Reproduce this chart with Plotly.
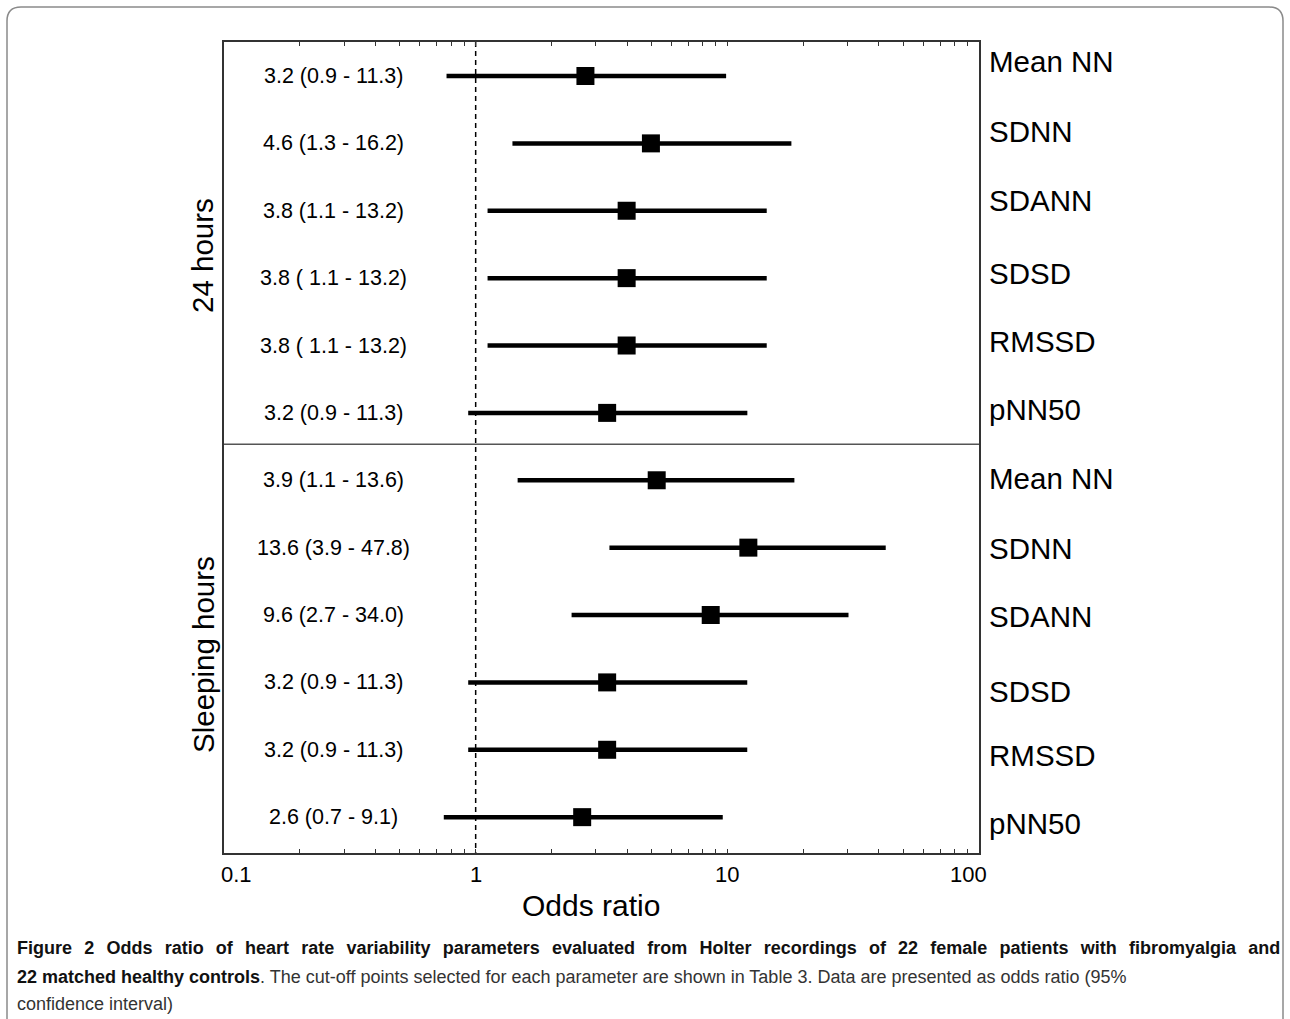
import math
import plotly.graph_objects as go

# ---------------- data ----------------
params = ["Mean NN", "SDNN", "SDANN", "SDSD", "RMSSD", "pNN50",
          "Mean NN", "SDNN", "SDANN", "SDSD", "RMSSD", "pNN50"]
groups = ["24 hours", "Sleeping hours"]
ci_text = ["3.2 (0.9 - 11.3)", "4.6 (1.3 - 16.2)", "3.8 (1.1 - 13.2)",
           "3.8 ( 1.1 - 13.2)", "3.8 ( 1.1 - 13.2)", "3.2 (0.9 - 11.3)",
           "3.9 (1.1 - 13.6)", "13.6 (3.9 - 47.8)", "9.6 (2.7 - 34.0)",
           "3.2 (0.9 - 11.3)", "3.2 (0.9 - 11.3)", "2.6 (0.7 - 9.1)"]
# odds ratio and CI as drawn in the picture
odds = [2.73, 4.97, 3.98, 3.98, 3.98, 3.33, 5.24, 12.12, 8.59, 3.33, 3.33, 2.65]
ci_lo = [0.766, 1.40, 1.115, 1.115, 1.115, 0.934, 1.468, 3.40, 2.405, 0.934, 0.934, 0.747]
ci_hi = [9.89, 17.97, 14.34, 14.34, 14.34, 12.01, 18.47, 42.6, 30.3, 12.0, 12.0, 9.59]
tick_vals = [0.1, 1, 10, 100]
tick_text = ["0.1", "1", "10", "100"]
minor_vals = [0.2, 0.3, 0.4, 0.5, 0.6, 0.7, 0.8, 0.9,
              2, 3, 4, 5, 6, 7, 8, 9,
              20, 30, 40, 50, 60, 70, 80, 90]
caption_bold1 = ("Figure 2 Odds ratio of heart rate variability parameters evaluated from "
                 "Holter recordings of 22 female patients with fibromyalgia and")
caption_bold2 = "22 matched healthy controls"
caption_reg2 = (". The cut-off points selected for each parameter are shown in Table 3. "
                "Data are presented as odds ratio (95%")
caption_reg3 = "confidence interval)"

# ---------------- layout geometry ----------------
W, H = 1290, 1019
L, R, T, B = 224, 979, 42, 853
Y_TOP, Y_BOT = -0.5046, 11.532   # row-index range of the y axis
SEP = 5.466
FONT = "Liberation Sans, Arial, sans-serif"
TICK_SHIFT = [12, 0, 0, -11]     # edge tick labels are pulled inwards


def px2x(px):
    return (px - L) / (R - L)


def px2y(py):
    return (B - py) / (B - T)


rows = list(range(len(params)))

fig = go.Figure()

# separator between the two groups
fig.add_shape(type="line", xref="paper", yref="y", x0=0, x1=1, y0=SEP, y1=SEP,
              line=dict(color="#555555", width=1.5))

# reference line at OR = 1
fig.add_trace(go.Scatter(x=[1, 1], y=[Y_TOP, Y_BOT], mode="lines",
                         line=dict(color="black", width=1.5, dash="5px,4px"),
                         hoverinfo="skip", showlegend=False))

# CI segments
seg_x, seg_y = [], []
for lo, hi, r in zip(ci_lo, ci_hi, rows):
    seg_x += [lo, hi, None]
    seg_y += [r, r, None]
fig.add_trace(go.Scatter(x=seg_x, y=seg_y, mode="lines",
                         line=dict(color="black", width=4.5),
                         hoverinfo="skip", showlegend=False))

# point estimates
fig.add_trace(go.Scatter(x=odds, y=rows, mode="markers",
                         marker=dict(symbol="square", size=18, color="black",
                                     line=dict(width=0)),
                         text=params, showlegend=False))

ann = []
# CI text on the left
for txt, r in zip(ci_text, rows):
    ann.append(dict(x=px2x(333), xref="paper", y=r, yref="y", text=txt,
                    showarrow=False, xanchor="center", yanchor="middle",
                    font=dict(size=21.5, color="black", family=FONT)))
# parameter names on the right
right_py = [61.7, 131.7, 200, 273, 341.7, 410, 478.3, 548.3, 616.7, 691.7, 755, 823]
for name, py in zip(params, right_py):
    ann.append(dict(x=px2x(987), xref="paper", y=px2y(py), yref="paper", text=name,
                    showarrow=False, xanchor="left", yanchor="middle",
                    font=dict(size=29.5, color="black", family=FONT)))
# group labels
for g, py in zip(groups, [256, 655]):
    ann.append(dict(x=px2x(203), xref="paper", y=px2y(py), yref="paper", text=g,
                    showarrow=False, textangle=-90, xanchor="center", yanchor="middle",
                    font=dict(size=29.5, color="black", family=FONT)))
# x tick labels (annotations so the edge labels can sit inside like the original)
for v, t, sh in zip(tick_vals, tick_text, TICK_SHIFT):
    ann.append(dict(x=math.log10(v), xref="x", y=px2y(874), yref="paper", text=t,
                    xshift=sh, showarrow=False, xanchor="center", yanchor="middle",
                    font=dict(size=22, color="black", family=FONT)))
# axis title
ann.append(dict(x=px2x(591), xref="paper", y=px2y(905), yref="paper", text="Odds ratio",
                showarrow=False, xanchor="center", yanchor="middle",
                font=dict(size=30, color="black", family=FONT)))
# caption (first line is justified in the original -> widened word gaps)
cap_font = "Liberation Sans, Arial, sans-serif"
gap = " \u2009\u2009"
ann.append(dict(x=px2x(15), xref="paper", y=px2y(948), yref="paper",
                text="<b>" + gap.join(caption_bold1.split(" ")) + "</b>", showarrow=False,
                xanchor="left", yanchor="middle",
                font=dict(size=18, color="#111111", family=cap_font)))
ann.append(dict(x=px2x(15), xref="paper", y=px2y(977), yref="paper",
                text="<b>" + caption_bold2 + "</b>"
                     + "<span style='color:#333333'>" + caption_reg2 + "</span>",
                showarrow=False, xanchor="left", yanchor="middle",
                font=dict(size=18, color="#111111", family=cap_font)))
ann.append(dict(x=px2x(15), xref="paper", y=px2y(1004), yref="paper",
                text=caption_reg3, showarrow=False, xanchor="left", yanchor="middle",
                font=dict(size=18, color="#333333", family=cap_font)))

# outer rounded border of the figure panel (bottom edge runs off the page)
x0, x1 = px2x(7), px2x(1283)
y0, y1 = px2y(7), px2y(1030)
rx = 14 / (R - L)
ry = 14 / (B - T)
path = (f"M {x0 + rx},{y0} L {x1 - rx},{y0} Q {x1},{y0} {x1},{y0 - ry} "
        f"L {x1},{y1} L {x0},{y1} L {x0},{y0 - ry} Q {x0},{y0} {x0 + rx},{y0} Z")
fig.add_shape(type="path", xref="paper", yref="paper", path=path,
              line=dict(color="#8a8a8a", width=1.5), layer="below")

fig.update_layout(
    width=W, height=H, autosize=False,
    margin=dict(l=L, r=W - R, t=T, b=H - B, pad=0),
    paper_bgcolor="white", plot_bgcolor="white",
    font=dict(family=FONT, color="black"),
    showlegend=False,
    annotations=ann,
    xaxis=dict(type="log", range=[-1, 2], tickvals=tick_vals, ticktext=tick_text,
               showticklabels=False,
               ticks="inside", ticklen=4, tickwidth=1, tickcolor="#333333",
               showline=True, linecolor="#333333", linewidth=1.5, mirror="ticks",
               showgrid=False, zeroline=False,
               minor=dict(tickmode="array", tickvals=minor_vals, ticks="inside",
                          ticklen=4, tickwidth=1, tickcolor="#333333", showgrid=False)),
    yaxis=dict(range=[Y_BOT, Y_TOP], showticklabels=False, ticks="",
               showline=True, linecolor="#333333", linewidth=1.5, mirror=True,
               showgrid=False, zeroline=False),
)

fig.write_html("out.html")
